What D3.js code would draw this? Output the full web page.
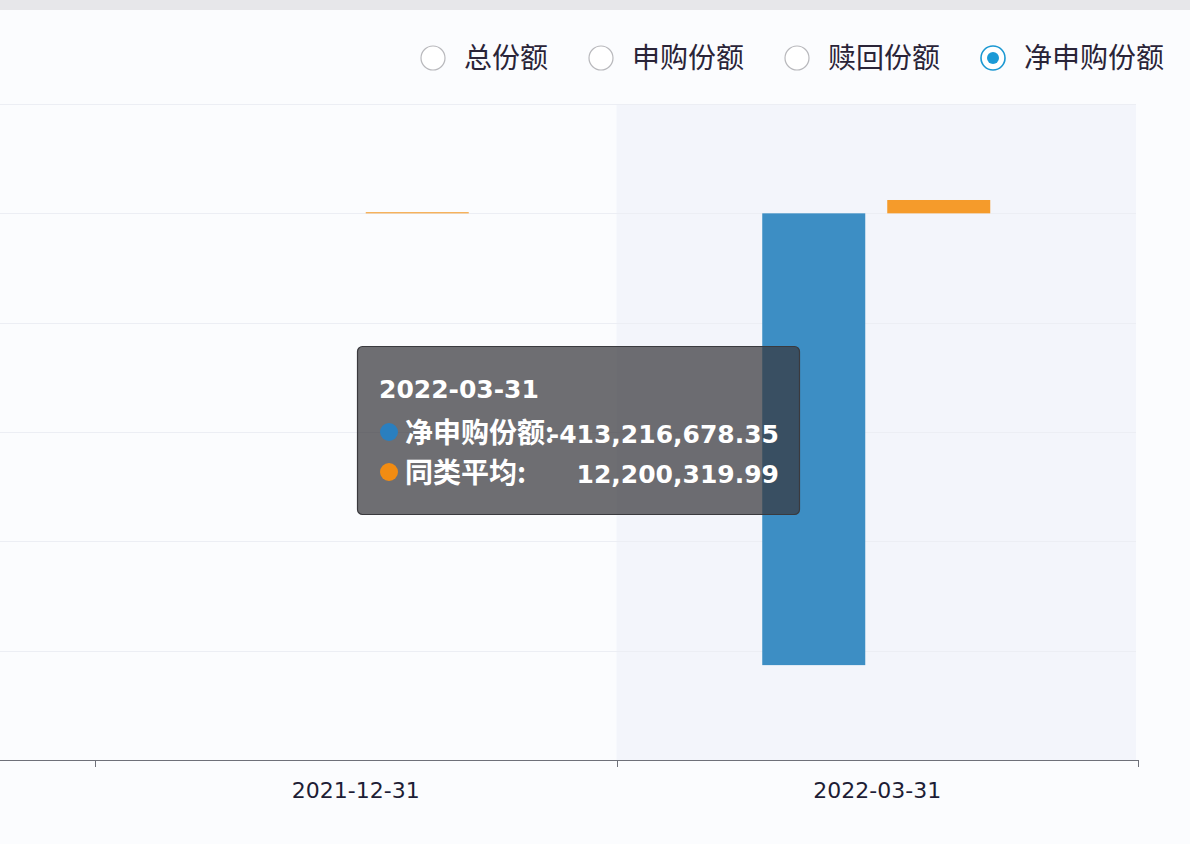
<!DOCTYPE html>
<html><head><meta charset="utf-8">
<script src="https://cdn.jsdelivr.net/npm/d3@7"></script>
<style>
html,body{margin:0;padding:0;background:#fbfcfe;}
svg{display:block;}
</style></head>
<body><svg id="c" width="1190" height="844"></svg>
<script>
const categories = ["2021-12-31", "2022-03-31"];
const seriesNames = ["净申购份额", "同类平均"];
const netSubscription = [0, -413216678.35];
const peerAverage = [1000000, 12200319.99];
const yTicks = [-500000000, -400000000, -300000000, -200000000, -100000000, 0, 100000000];
const legendItems = ["总份额", "申购份额", "赎回份额", "净申购份额"];
const selectedLegend = "净申购份额";
const tooltipCategory = "2022-03-31";

const svg = d3.select("#c");
const W = 1190, H = 844;
const cjk = "'Noto Sans CJK SC','Noto Sans',sans-serif";
const num = "'DejaVu Sans','Open Sans',sans-serif";

// top strip
svg.append("rect").attr("x",0).attr("y",0).attr("width",W).attr("height",10).attr("fill","#e7e7ea");

const plotLeft = 0, plotRight = 1136, plotTop = 104, plotBottom = 760;
const x = d3.scaleBand().domain(categories).range([95, 1138]).paddingInner(0).paddingOuter(0);
const y = d3.scaleLinear().domain([-500000000, 100000000]).range([plotBottom, plotTop]);
const colors = {"净申购份额":"#3d8ec4","同类平均":"#f59b2b"};
const dotColors = {"净申购份额":"#2a7fbf","同类平均":"#f28c12"};

// highlight band for tooltip category
svg.append("rect")
  .attr("x", x(tooltipCategory)).attr("y", plotTop)
  .attr("width", Math.min(x.bandwidth(), plotRight - x(tooltipCategory)))
  .attr("height", plotBottom - plotTop)
  .attr("fill", "#f3f5fb");

// grid lines
svg.append("g").selectAll("line").data(yTicks.filter(t => t !== -500000000)).join("line")
  .attr("x1", plotLeft).attr("x2", plotRight)
  .attr("y1", d => Math.round(y(d)) + 0.5).attr("y2", d => Math.round(y(d)) + 0.5)
  .attr("stroke", "#eceef4").attr("stroke-width", 1);

// bars
const x1 = d3.scaleBand().domain(seriesNames).range([0, 228]).paddingInner(0.176).paddingOuter(0);
const data = categories.map((c, i) => ({cat: c, vals: [
  {name: seriesNames[0], v: netSubscription[i]},
  {name: seriesNames[1], v: peerAverage[i]}
]}));
const groups = svg.append("g").selectAll("g").data(data).join("g")
  .attr("transform", d => `translate(${x(d.cat) + x.bandwidth()/2 - 115},0)`);
groups.selectAll("rect").data(d => d.vals).join("rect")
  .attr("x", d => x1(d.name))
  .attr("width", x1.bandwidth())
  .attr("y", d => Math.min(y(d.v), y(0)))
  .attr("height", d => Math.abs(y(d.v) - y(0)))
  .attr("fill", d => colors[d.name]);

// x axis
const ax = svg.append("g");
ax.append("line").attr("x1", 0).attr("x2", 1138).attr("y1", plotBottom + 0.5).attr("y2", plotBottom + 0.5)
  .attr("stroke", "#6e7079").attr("stroke-width", 1);
const boundaries = categories.map(c => x(c)).concat([x(categories[categories.length-1]) + x.bandwidth()]);
ax.selectAll("line.tk").data(boundaries).join("line").attr("class","tk")
  .attr("x1", d => Math.round(d) + 0.5).attr("x2", d => Math.round(d) + 0.5)
  .attr("y1", plotBottom).attr("y2", plotBottom + 7)
  .attr("stroke", "#6e7079");
ax.selectAll("text").data(categories).join("text")
  .attr("x", d => x(d) + x.bandwidth()/2).attr("y", 798)
  .attr("text-anchor", "middle")
  .attr("font-family", num).attr("font-size", 22)
  .attr("fill", "#1d1d35")
  .text(d => d);

// legend
const legendX = [433, 601, 797, 993];
const lg = svg.append("g");
legendItems.forEach((name, i) => {
  const cx = legendX[i], cy = 58;
  const sel = name === selectedLegend;
  lg.append("circle").attr("cx", cx).attr("cy", cy).attr("r", 12)
    .attr("fill", "#ffffff").attr("stroke", sel ? "#1b98d2" : "#b8b8bc").attr("stroke-width", sel ? 1.6 : 1.2);
  if (sel) lg.append("circle").attr("cx", cx).attr("cy", cy).attr("r", 6).attr("fill", "#1b9ad6");
  lg.append("text").attr("x", cx + 31).attr("y", cy + 10)
    .attr("font-family", cjk).attr("font-size", 28).attr("fill", "#2a2438")
    .text(name);
});

// tooltip
const ti = categories.indexOf(tooltipCategory);
const tg = svg.append("g");
tg.append("rect").attr("x", 357.5).attr("y", 346.5).attr("width", 442).attr("height", 168).attr("rx", 5)
  .attr("fill", "rgba(55,55,60,0.72)").attr("stroke", "#3a3a3e").attr("stroke-width", 1.2);
tg.append("text").attr("x", 379).attr("y", 398)
  .attr("font-family", num).attr("font-size", 25).attr("font-weight", 700).attr("fill", "#ffffff")
  .text(tooltipCategory);
const fmt = d3.format(",.2f");
const rows = [
  {name: seriesNames[0], v: netSubscription[ti], y: 433},
  {name: seriesNames[1], v: peerAverage[ti], y: 473}
];
rows.forEach(r => {
  tg.append("circle").attr("cx", 389).attr("cy", r.y - 1).attr("r", 9).attr("fill", dotColors[r.name]);
  tg.append("text").attr("x", 405).attr("y", r.y + 10)
    .attr("font-family", cjk).attr("font-size", 28).attr("font-weight", 700).attr("fill", "#ffffff")
    .text(r.name + ":");
  tg.append("text").attr("x", 779).attr("y", r.y + 10).attr("text-anchor", "end")
    .attr("font-family", num).attr("font-size", 25).attr("font-weight", 700).attr("fill", "#ffffff")
    .text(fmt(r.v).replace("−", "-"));
});
</script></body></html>
